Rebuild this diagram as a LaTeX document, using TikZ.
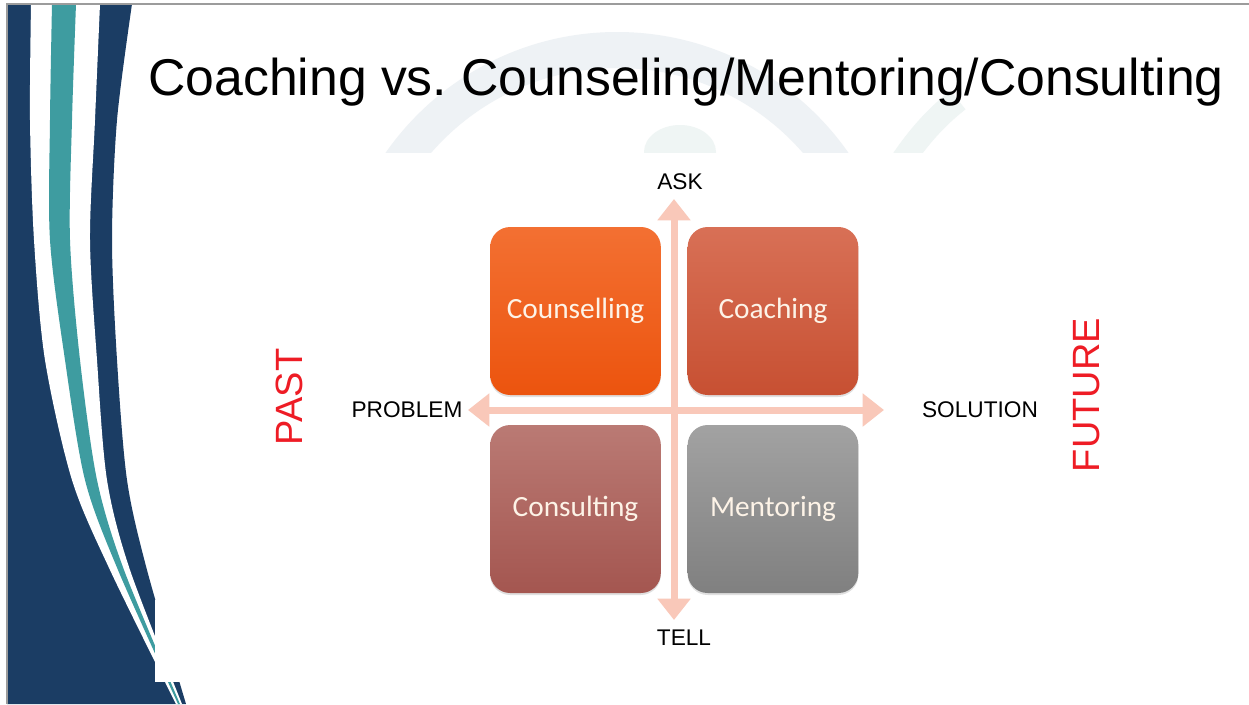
\documentclass[tikz,border=0pt]{standalone}
\usepackage{fontspec}
\setmainfont{Liberation Sans}
\newfontfamily\calib{Carlito}
\usetikzlibrary{arrows.meta}

\definecolor{navy}{HTML}{1B3D64}
\definecolor{tealband}{HTML}{3E9CA0}
\definecolor{framegray}{HTML}{9C9C9C}
\definecolor{wmark}{HTML}{EEF2F5}
\definecolor{wmarkb}{HTML}{EFF5F4}
\definecolor{axispink}{HTML}{F9C8B9}
\definecolor{labelred}{HTML}{EE1C25}
\definecolor{boxtext}{HTML}{FDF3E7}

\tikzset{
  qbox/.style={rounded corners=15pt, minimum width=128pt, minimum height=126pt,
    text=boxtext, font=\calib\fontsize{22}{24}\selectfont, inner sep=0pt,
    preaction={fill=black, opacity=0.12, transform canvas={yshift=-1.5pt}}},
  axis/.style={draw=axispink, line width=5.25pt,
    arrows={Triangle[length=16pt,width=24pt]-Triangle[length=16pt,width=24pt]}},
  axislabel/.style={font=\fontsize{17}{19}\selectfont, text=black},
  timelabel/.style={rotate=90, font=\fontsize{28.5}{30}\selectfont, text=labelred}
}

\begin{document}
\begin{tikzpicture}[x=0.75pt,y=-0.75pt]
\useasboundingbox (0,0) rectangle (1249,704);
\fill[white] (0,0) rectangle (1249,704);

% faint arch motif behind the title
\begin{scope}
  \clip (300,0) rectangle (1000,152);
  \draw[wmark, line width=27pt] (617,314) circle (264);
  \fill[wmarkb] (680,152) ellipse (36 and 27);
  \draw[wmarkb, line width=18pt] (903,160) .. controls (918,138) and (935,118) .. (958,100);
\end{scope}

% curved side bands
\fill[navy] (7,4) -- plot[smooth] coordinates {(132,4) (117,120) (112,240) (117,360) (127,480) (147,570) (186,704)} -- (7,704) -- cycle;
\fill[white] plot[smooth] coordinates {(31,4) (30,120) (34,240) (45,360) (72,480) (110,570) (176,704)}
  -- plot[smooth] coordinates {(182,704) (130,570) (107,480) (97,360) (90,240) (95,120) (100,4)} -- cycle;
\fill[tealband] plot[smooth] coordinates {(52,4) (50,120) (50,240) (65,360) (85,480) (118,570) (178,704)}
  -- plot[smooth] coordinates {(180,704) (124,570) (97,480) (80,360) (70,240) (72,120) (76,4)} -- cycle;
\fill[white] (155,600) rectangle (215,682);

% slide frame
\draw[framegray, line width=1.5pt] (7,704) -- (7,4) -- (1249,4);

% title
\node[anchor=base west, font=\fontsize{38.8}{42}\selectfont, inner sep=0pt] (title) at (148,95)
  {Coaching vs.\ Counseling/Mentoring/Consulting};

% quadrant boxes
\node[qbox, top color={rgb,255:red,243;green,112;blue,50}, bottom color={rgb,255:red,236;green,84;blue,14}] (counsel) at (575.5,311) {Counselling};
\node[qbox, top color={rgb,255:red,216;green,112;blue,86}, bottom color={rgb,255:red,199;green,80;blue,50}] (coach) at (773,311) {Coaching};
\node[qbox, top color={rgb,255:red,186;green,122;blue,116}, bottom color={rgb,255:red,164;green,86;blue,80}] (consult) at (575.5,509) {Consulting};
\node[qbox, top color={rgb,255:red,162;green,162;blue,162}, bottom color={rgb,255:red,128;green,128;blue,128}] (mentor) at (773,509) {Mentoring};

% axes
\coordinate (vtop) at (674,199);
\coordinate (vbot) at (674,620);
\coordinate (hleft) at (468,410);
\coordinate (hright) at (884,410);
\draw[axis] (vbot) -- (vtop);
\draw[axis] (hleft) -- (hright);

% axis labels
\node[axislabel] (ask) at (680,182) {ASK};
\node[axislabel] (tell) at (684,638) {TELL};
\node[axislabel] (problem) at (407,410) {PROBLEM};
\node[axislabel] (solution) at (980,410) {SOLUTION};

% time labels
\node[timelabel] (past) at (289,397) {PAST};
\node[timelabel] (future) at (1087,395) {FUTURE};
\end{tikzpicture}
\end{document}
